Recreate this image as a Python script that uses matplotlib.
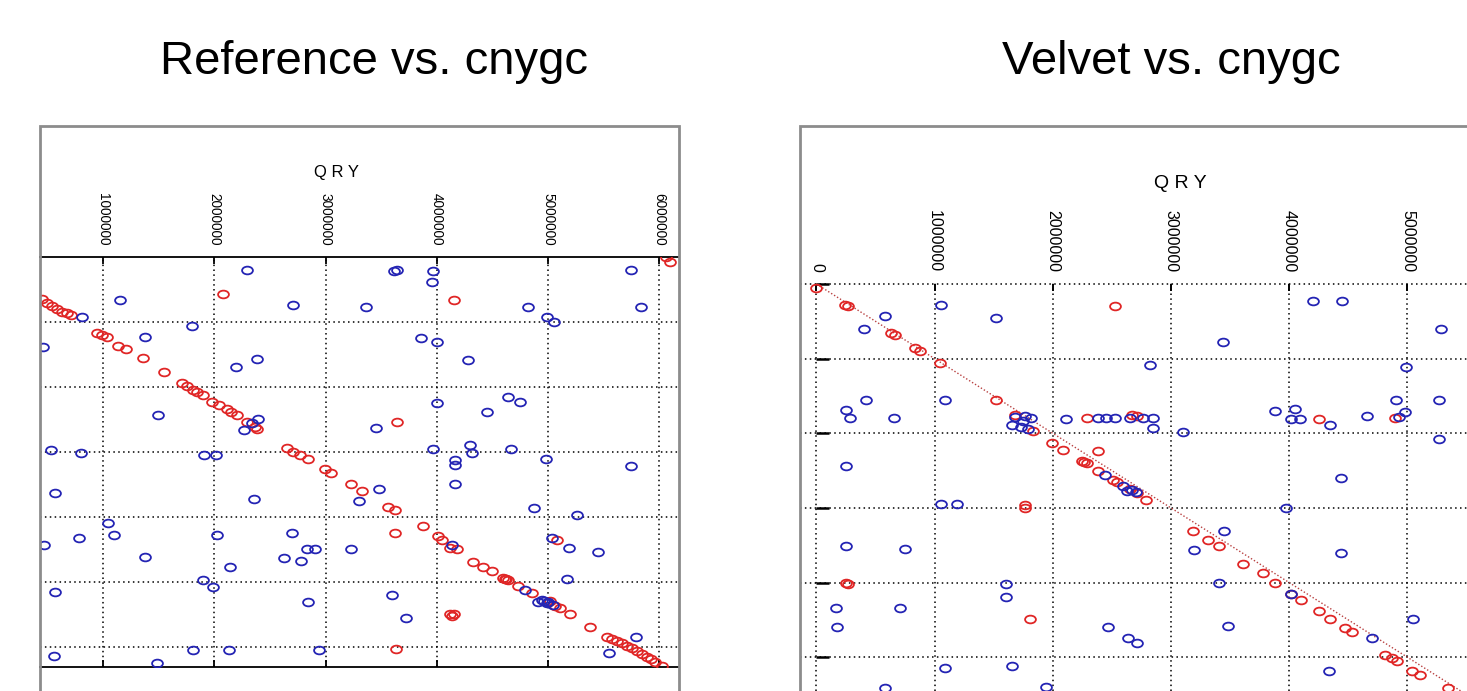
"""Dot plots of two assemblies against the cnygc query (QRY on top, subject down)."""

import matplotlib
matplotlib.use("Agg")
import matplotlib.pyplot as plt
import numpy as np
from matplotlib.markers import MarkerStyle
from matplotlib.patches import Rectangle
from matplotlib.path import Path
from matplotlib.transforms import Affine2D

W, H = 1467, 691
RED, BLUE = "#e02626", "#2424b4"
NARROW = ["Liberation Sans Narrow", "Liberation Sans", "DejaVu Sans"]

# match positions in Mb: x = query (cnygc), y = subject; red = forward, blue = reverse
REF_FWD_X = [0.446, 0.491, 0.536, 0.581, 0.626, 0.671, 0.707,
             0.940, 0.985, 1.030, 1.135, 1.204, 1.360, 1.549,
             1.705, 1.750, 1.810, 1.840, 1.900, 1.975, 2.040, 2.109, 2.150, 2.199, 2.289, 2.364, 2.379,
             2.073, 4.157, 3.638,
             2.649, 2.709, 2.769, 2.838, 2.994, 3.048, 3.224, 3.329, 3.563, 3.623, 3.878, 3.623, 4.013,
             4.043, 4.118, 4.178, 5.082,
             4.328, 4.418, 4.493, 4.597, 4.610, 4.625, 4.642, 4.732, 4.852, 5.020, 5.060, 5.107, 5.197, 5.377,
             4.120, 4.140, 4.150, 3.629,
             5.527, 5.572, 5.617, 5.662, 5.707, 5.752, 5.797, 5.842, 5.887, 5.925, 5.962, 6.022,
             6.060, 6.100]
REF_FWD_Y = [0.648, 0.699, 0.750, 0.802, 0.838, 0.864, 0.889,
             1.161, 1.197, 1.233, 1.362, 1.418, 1.557, 1.772,
             1.932, 1.983, 2.045, 2.070, 2.122, 2.225, 2.280, 2.343, 2.385, 2.430, 2.533, 2.610, 2.646,
             0.571, 0.658, 2.543,
             2.943, 2.995, 3.046, 3.113, 3.267, 3.318, 3.498, 3.601, 3.853, 3.894, 4.140, 4.243, 4.294,
             4.356, 4.484, 4.499, 4.356,
             4.690, 4.767, 4.828, 4.947, 4.955, 4.960, 4.972, 5.065, 5.178, 5.300, 5.370, 5.409, 5.496, 5.691,
             5.500, 5.530, 5.490, 6.041,
             5.845, 5.875, 5.907, 5.950, 5.989, 6.025, 6.061, 6.105, 6.153, 6.190, 6.231, 6.297,
             -0.010, 0.067]
REF_REV_X = [1.150, 0.805, 0.461, 1.375, 1.795, 2.295, 2.193, 2.379, 1.489, 0.527,
             0.800, 1.909, 2.013, 0.563, 2.358, 1.045, 1.096, 0.785, 0.467, 1.375,
             2.020, 2.139, 0.566, 1.900, 1.990, 0.557, 1.480, 1.804, 2.134,
             2.266, 2.334, 2.394,
             2.709, 3.362, 3.615, 3.645, 3.968, 3.953, 3.854, 3.998, 4.283, 3.998,
             3.452, 3.968, 4.298, 4.313, 4.163, 4.163, 4.163, 3.479, 3.302, 4.133,
             2.694, 2.829, 2.904, 2.625, 2.778, 3.228, 2.838, 3.593, 3.722, 2.940,
             5.746, 5.833, 4.816, 4.987, 5.053, 4.636, 4.747, 4.448, 4.663, 4.981,
             5.746, 4.873, 5.257, 5.032, 5.191, 5.452, 5.167, 4.792, 4.942, 4.987,
             5.047, 4.912, 4.960, 5.000, 5.791, 5.551]
REF_REV_Y = [0.658, 0.925, 1.377, 1.223, 1.059, 0.196, 1.695, 1.572, 2.430, 2.969,
             3.021, 3.046, 3.046, 3.637, 3.729, 4.099, 4.279, 4.330, 4.433, 4.613,
             4.279, 4.777, 5.152, 4.972, 5.075, 6.143, 6.256, 6.051, 6.051,
             2.661, 2.558, 2.497,
             0.735, 0.761, 0.215, 0.196, 0.206, 0.375, 1.249, 1.300, 1.582, 2.250,
             2.635, 2.959, 2.892, 3.021, 3.123, 3.200, 3.498, 3.575, 3.750, 4.433,
             4.253, 4.500, 4.500, 4.638, 4.680, 4.495, 5.306, 5.203, 5.553, 6.051,
             0.196, 0.771, 0.771, 0.915, 0.992, 2.147, 2.225, 2.389, 2.959, 3.113,
             3.216, 3.868, 3.971, 4.330, 4.484, 4.536, 4.962, 5.126, 5.280, 5.332,
             5.357, 5.306, 5.300, 5.310, 5.845, 6.092]

VEL_FWD_X = [0.000, 0.240, 0.265, 0.628, 0.662, 0.831, 0.874, 1.043, 1.522, 1.683,
             1.830, 1.765, 1.765, 2.526, 2.287, 2.667, 2.709,
             1.990, 2.089, 2.385, 2.244, 2.260, 2.287, 2.385, 2.512, 2.540, 2.650,
             2.709, 2.788, 3.189, 3.316, 3.409, 3.612,
             1.807, 0.253, 0.265, 4.255, 4.892,
             3.776, 3.883, 4.018, 4.103, 4.255, 4.348, 4.475, 4.531, 4.813, 4.870,
             4.912, 5.039, 5.109, 5.340]
VEL_FWD_Y = [0.050, 0.280, 0.290, 0.656, 0.688, 0.857, 0.893, 1.058, 1.558, 1.755,
             1.965, 2.965, 2.995, 0.299, 1.795, 1.759, 1.773,
             2.130, 2.219, 2.233, 2.375, 2.385, 2.398, 2.509, 2.621, 2.652, 2.740,
             2.800, 2.889, 3.304, 3.425, 3.514, 3.751,
             4.483, 4.005, 4.015, 1.804, 1.795,
             3.871, 4.005, 4.153, 4.229, 4.385, 4.483, 4.608, 4.662, 4.965, 5.010,
             5.055, 5.180, 5.242, 5.410]
VEL_REV_X = [0.578, 0.403, 1.057, 1.522, 0.422, 0.253, 0.281, 0.657, 1.085, 0.253,
             1.057, 1.192, 0.253, 0.752, 0.169, 0.704, 0.175, 1.607, 1.607, 1.085,
             1.658, 0.578,
             3.437, 2.822,
             1.676, 1.767, 1.816, 1.658, 1.731, 1.786, 1.751,
             2.109, 2.385, 2.450, 2.526, 2.653, 2.766, 2.851, 2.845, 3.104,
             2.442, 2.597, 2.625, 2.668, 2.700,
             3.448, 3.195, 3.406, 2.470, 2.639, 2.709, 3.485, 1.942,
             4.199, 4.447, 5.287, 4.991, 4.906, 5.265, 5.265, 3.883, 4.052, 4.018,
             4.094, 4.342, 4.658, 4.932, 4.982, 4.441, 3.973, 4.441, 4.018, 4.700,
             5.045, 4.340]
VEL_REV_Y = [0.424, 0.603, 0.286, 0.455, 1.549, 1.683, 1.795, 1.795, 1.549, 2.443,
             2.947, 2.947, 3.514, 3.545, 4.340, 4.340, 4.595, 4.014, 4.197, 5.144,
             5.122, 5.412,
             0.781, 1.090,
             1.778, 1.768, 1.800, 1.889, 1.911, 1.946, 1.840,
             1.804, 1.800, 1.795, 1.795, 1.790, 1.795, 1.790, 1.929, 1.983,
             2.554, 2.710, 2.777, 2.755, 2.790,
             3.304, 3.559, 4.005, 4.595, 4.742, 4.809, 4.586, 5.403,
             0.223, 0.223, 0.603, 1.116, 1.549, 1.549, 2.072, 1.697, 1.674, 1.804,
             1.804, 1.884, 1.773, 1.786, 1.715, 2.599, 3.001, 3.603, 4.153, 4.742,
             4.483, 5.189]
VEL_DIAG_END = 5.6  # Mb, extent of the dotted identity line

REF_TICKS = [1, 2, 3, 4, 5, 6]
VEL_TICKS = [0, 1, 2, 3, 4, 5]
REF_ROWS = [1, 2, 3, 4, 5, 6]
VEL_ROWS = [0, 1, 2, 3, 4, 5]

ELLIPSE = MarkerStyle(Path.unit_circle().transformed(Affine2D().scale(1.4, 1.0)))


def px_rect(x0, y0, x1, y1):
    """Figure-fraction rect from pixel box (origin top-left)."""
    return [x0 / W, 1 - y1 / H, (x1 - x0) / W, (y1 - y0) / H]


def scatter_hits(ax, xs, ys, color):
    ax.plot(np.asarray(xs) * 1e6, np.asarray(ys) * 1e6, linestyle="none", marker=ELLIPSE,
            ms=7.8, mfc="none", mec=color, mew=1.3, zorder=3)


def style_axes(ax, ticks, rows, label_size):
    ax.set_xticks([t * 1e6 for t in ticks])
    ax.set_xticklabels([str(int(t * 1e6)) for t in ticks], rotation=-90,
                       fontsize=label_size, family=NARROW)
    ax.set_yticks([r * 1e6 for r in rows])
    ax.set_yticklabels([])
    ax.grid(True, color="black", linestyle=(0, (1, 2.2)), linewidth=1.1, zorder=1)
    ax.set_axisbelow(True)


def main():
    fig = plt.figure(figsize=(W / 100, H / 100), dpi=100)

    # left: reference vs cnygc (cropped window of a larger dot plot)
    ax = fig.add_axes(px_rect(40, 257.3, 679, 667))
    ax.set_xlim(0.431e6, 6.177e6)
    ax.set_ylim(6.313e6, 0)
    style_axes(ax, REF_TICKS, REF_ROWS, 9.8)
    for side in ("left", "right"):
        ax.spines[side].set_visible(False)
    for side in ("top", "bottom"):
        ax.spines[side].set_linewidth(1.3)
    ax.tick_params(axis="x", top=True, bottom=True, labeltop=True, labelbottom=False,
                   direction="in", length=5, width=1.3, pad=8.5)
    ax.tick_params(axis="y", left=False, right=False)
    scatter_hits(ax, REF_FWD_X, REF_FWD_Y, RED)
    scatter_hits(ax, REF_REV_X, REF_REV_Y, BLUE)

    # right: velvet assembly vs cnygc
    bx = fig.add_axes(px_rect(800, 282, 1467, 691))
    bx.set_xlim(-0.139e6, 5.504e6)
    bx.set_ylim(5.452e6, -0.027e6)
    bx.spines["left"].set_position(("data", 0))
    bx.spines["top"].set_position(("data", 0))
    style_axes(bx, VEL_TICKS, VEL_ROWS, 11.5)
    for side in bx.spines:
        bx.spines[side].set_color("none")
    bx.tick_params(axis="x", top=True, bottom=False, labeltop=True, labelbottom=False,
                   direction="in", length=5, width=1.4, pad=8.5)
    bx.tick_params(axis="y", left=True, right=False, direction="in", length=9, width=1.8)
    bx.plot([0, VEL_DIAG_END * 1e6], [0, VEL_DIAG_END * 1e6], color="#b84040",
            linestyle=(0, (1, 1.5)), linewidth=1.0, zorder=2)
    scatter_hits(bx, VEL_FWD_X, VEL_FWD_Y, RED)
    scatter_hits(bx, VEL_REV_X, VEL_REV_Y, BLUE)

    # screenshot frames around each plot
    for x0, x1 in ((40, 679), (800, 1490)):
        fig.add_artist(Rectangle((x0 / W, 1 - 720 / H), (x1 - x0) / W, (720 - 126) / H,
                                 transform=fig.transFigure, facecolor="none",
                                 edgecolor="#8c8c8c", linewidth=2.0, zorder=5))

    fig.text(336 / W, 1 - 172 / H, "Q R Y", ha="center", va="center", fontsize=12, family=NARROW)
    fig.text(1180 / W, 1 - 183 / H, "Q R Y", ha="center", va="center", fontsize=14, family=NARROW)
    fig.text(374 / W, 1 - 74 / H, "Reference vs. cnygc", ha="center", va="baseline",
             fontsize=34, family="Liberation Sans")
    fig.text(1171 / W, 1 - 74 / H, "Velvet vs. cnygc", ha="center", va="baseline",
             fontsize=34, family="Liberation Sans")

    fig.savefig("out.png", dpi=100, facecolor="white")
    plt.close(fig)


if __name__ == "__main__":
    main()
